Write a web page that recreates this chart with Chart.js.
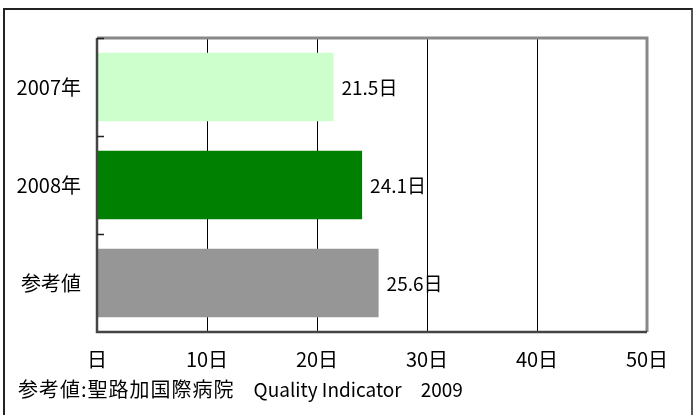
<!DOCTYPE html>
<html>
<head>
<meta charset="utf-8">
<script src="https://cdn.jsdelivr.net/npm/chart.js@4"></script>
<style>
  body { margin: 0; background: #fff; }
  #wrap { position: relative; width: 695px; height: 415px; overflow: hidden; }
  #frame { position: absolute; left: 3px; top: 8px; width: 690px; height: 430px; box-sizing: border-box; border: 2px solid #222; border-right-color: #555; }
  #note { position: absolute; left: 18px; top: 375px; font: 19px "Noto Sans CJK JP", sans-serif; line-height: 28px; color: #000; white-space: pre; }
  #note .jp { font-size: 20px; letter-spacing: 1px; }
  canvas { position: absolute; left: 0; top: 0; }
</style>
</head>
<body>
<div id="wrap">
  <div id="frame"></div>
  <canvas id="chart" width="695" height="415"></canvas>
  <div id="note"><span class="jp">参考値:聖路加国際病院</span>　Quality Indicator　2009</div>
</div>
<script>
// data
const categories = ['2007年', '2008年', '参考値'];
const days = [21.5, 24.1, 25.6];
const barColors = ['#ccffcc', '#008000', '#969696'];
const xMax = 50;
const xStep = 10;

const FONT = { family: '"Noto Sans CJK JP", sans-serif', size: 20 };

// value labels at the end of each bar
const valueLabels = {
  id: 'valueLabels',
  afterDatasetsDraw(chart) {
    const ctx = chart.ctx;
    ctx.save();
    ctx.font = '19px ' + FONT.family;
    ctx.fillStyle = '#000';
    ctx.textBaseline = 'middle';
    chart.getDatasetMeta(0).data.forEach((bar, i) => {
      ctx.fillText(days[i] + '日', bar.x + 8, bar.y + 1);
    });
    ctx.restore();
  }
};

// plot border: dark left/bottom, grey top/right, small ticks between categories
const plotBorder = {
  id: 'plotBorder',
  afterDraw(chart) {
    const { ctx, chartArea: a, scales } = chart;
    ctx.save();
    ctx.strokeStyle = '#888';
    ctx.lineWidth = 3;
    ctx.beginPath();
    ctx.moveTo(a.left, a.top);
    ctx.lineTo(a.right, a.top);
    ctx.lineTo(a.right, a.bottom);
    ctx.stroke();
    ctx.strokeStyle = '#444';
    ctx.lineWidth = 2.5;
    ctx.beginPath();
    ctx.moveTo(a.left, a.top);
    ctx.lineTo(a.left, a.bottom);
    ctx.lineTo(a.right, a.bottom);
    ctx.stroke();
    ctx.strokeStyle = '#222';
    ctx.lineWidth = 1.5;
    ctx.beginPath();
    for (let i = 0; i < categories.length - 1; i++) {
      const y = (scales.y.getPixelForValue(i) + scales.y.getPixelForValue(i + 1)) / 2;
      ctx.moveTo(a.left, Math.round(y) + 0.5);
      ctx.lineTo(a.left + 7, Math.round(y) + 0.5);
    }
    ctx.moveTo(a.left, a.top + 0.5);
    ctx.lineTo(a.left + 7, a.top + 0.5);
    ctx.stroke();
    ctx.restore();
  }
};

new Chart(document.getElementById('chart'), {
  type: 'bar',
  data: {
    labels: categories,
    datasets: [{
      data: days,
      backgroundColor: barColors,
      borderWidth: 0,
      barPercentage: 0.7,
      categoryPercentage: 1
    }]
  },
  options: {
    indexAxis: 'y',
    responsive: false,
    animation: false,
    layout: { padding: { left: 0, top: 38, right: 48, bottom: 43 } },
    plugins: { legend: { display: false }, tooltip: { enabled: false } },
    scales: {
      x: {
        min: 0,
        max: xMax,
        afterFit(s) { s.height = 40; },
        border: { display: false },
        grid: { color: '#000', lineWidth: 1, drawTicks: false },
        ticks: {
          stepSize: xStep,
          padding: 15,
          color: '#000',
          font: FONT,
          callback: v => (v === 0 ? '' : v) + '日'
        }
      },
      y: {
        afterFit(s) { s.width = 97; },
        border: { display: false },
        grid: { display: false, drawTicks: false },
        ticks: { padding: 16, color: '#000', font: FONT }
      }
    }
  },
  plugins: [valueLabels, plotBorder]
});
</script>
</body>
</html>
